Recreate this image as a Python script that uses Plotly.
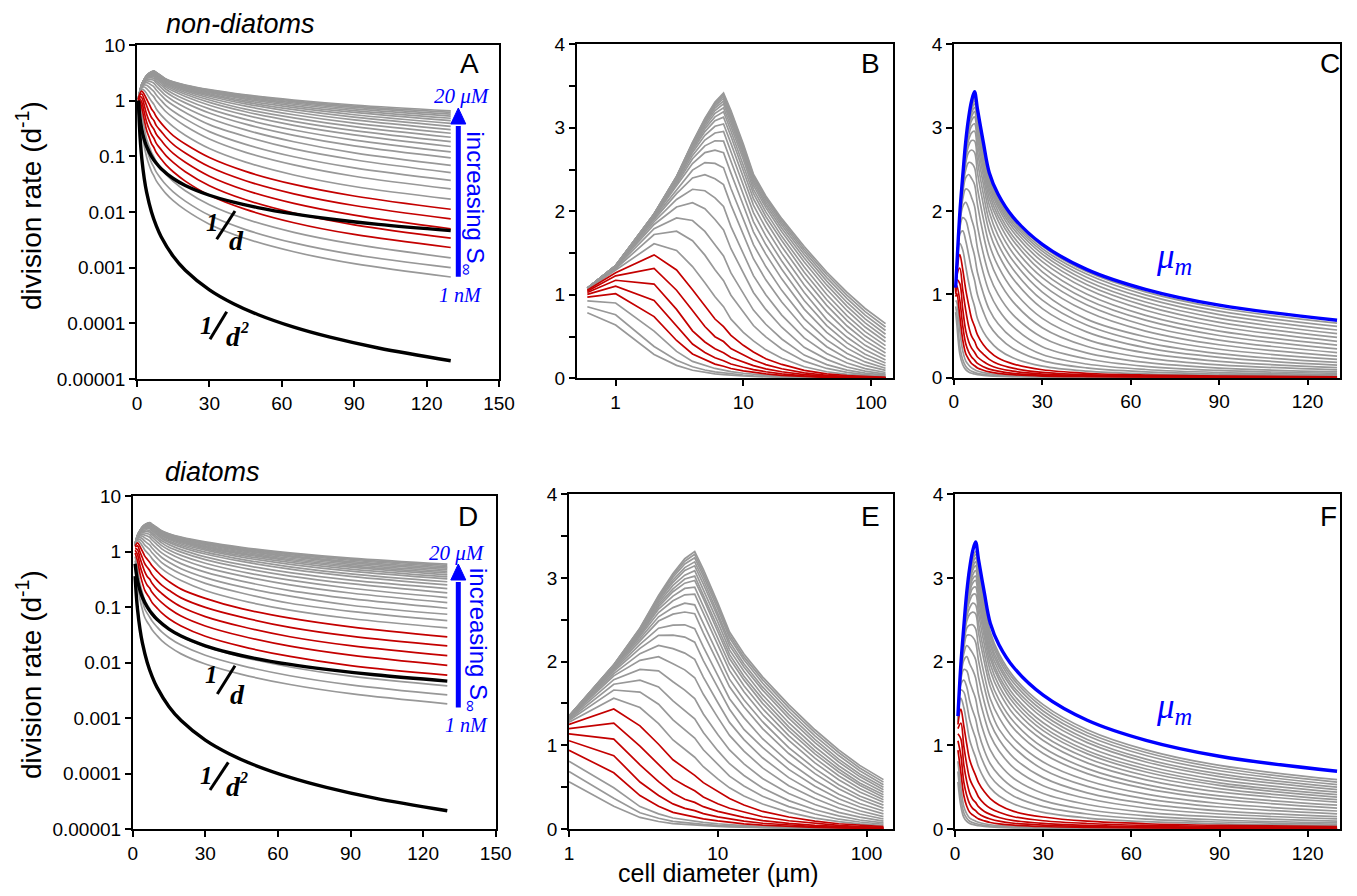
import plotly.graph_objects as go

# cell diameters (um) where the curves were read
diam_nd = [0.6, 1, 2, 3, 4, 5, 6, 7, 8, 10, 12, 15, 20, 30, 45, 65, 90, 130]
diam_dt = [1, 2, 3, 4, 5, 6, 7, 8, 10, 12, 15, 20, 30, 45, 65, 90, 130]

# maximum division rate mu_m (blue curve, panels C and F)
mu_max_nd = [1.08, 1.35, 1.97, 2.42, 2.83, 3.12, 3.32, 3.43, 3.22, 2.82, 2.46, 2.2, 1.93, 1.6, 1.3, 1.06, 0.87, 0.69]
mu_max_dt = [1.35, 1.97, 2.42, 2.83, 3.12, 3.32, 3.43, 3.22, 2.82, 2.46, 2.2, 1.93, 1.6, 1.3, 1.06, 0.87, 0.69]

# division rate (d-1) per substrate level, from 1 nM (first row) up to 20 uM (last row)
rate_nd = [
    [0.786, 0.638, 0.285, 0.155, 0.0968, 0.0696, 0.0537, 0.0445, 0.0363, 0.0274, 0.0214, 0.0160, 0.0109, 0.00605, 0.00334, 0.00193, 0.00118, 0.00068],
    [0.857, 0.761, 0.381, 0.216, 0.138, 0.0992, 0.0768, 0.0637, 0.0521, 0.0394, 0.0308, 0.0230, 0.0157, 0.00871, 0.00483, 0.00278, 0.00171, 0.001],
    [0.927, 0.902, 0.565, 0.322, 0.203, 0.152, 0.118, 0.0977, 0.0802, 0.0606, 0.0474, 0.0356, 0.0241, 0.0135, 0.00748, 0.00431, 0.00264, 0.0015],
    [0.972, 1.013, 0.739, 0.453, 0.291, 0.222, 0.170, 0.144, 0.117, 0.0897, 0.0701, 0.0528, 0.0359, 0.0200, 0.01115, 0.00642, 0.00395, 0.0023],
    [1.005, 1.104, 0.931, 0.622, 0.410, 0.310, 0.247, 0.211, 0.171, 0.132, 0.1033, 0.0781, 0.0530, 0.0297, 0.01656, 0.00958, 0.00589, 0.0034],
    [1.028, 1.174, 1.129, 0.825, 0.568, 0.435, 0.355, 0.306, 0.249, 0.194, 0.1515, 0.1129, 0.0782, 0.0440, 0.0246, 0.01428, 0.00878, 0.005],
    [1.044, 1.227, 1.316, 1.055, 0.812, 0.62, 0.498, 0.440, 0.356, 0.281, 0.220, 0.1637, 0.1146, 0.0648, 0.0364, 0.0212, 0.01308, 0.0075],
    [1.056, 1.265, 1.478, 1.297, 1.061, 0.874, 0.71, 0.618, 0.515, 0.395, 0.315, 0.235, 0.166, 0.0950, 0.0536, 0.0313, 0.0194, 0.0112],
    [1.064, 1.292, 1.611, 1.532, 1.338, 1.143, 0.977, 0.858, 0.708, 0.55, 0.448, 0.341, 0.239, 0.138, 0.0786, 0.0462, 0.0287, 0.017],
    [1.070, 1.312, 1.722, 1.762, 1.647, 1.475, 1.301, 1.170, 0.995, 0.790, 0.632, 0.495, 0.351, 0.205, 0.118, 0.0702, 0.0439, 0.026],
    [1.073, 1.324, 1.791, 1.921, 1.890, 1.759, 1.600, 1.465, 1.262, 1.010, 0.817, 0.647, 0.471, 0.278, 0.164, 0.0982, 0.0620, 0.037],
    [1.075, 1.332, 1.842, 2.052, 2.103, 2.032, 1.902, 1.777, 1.552, 1.255, 1.028, 0.825, 0.612, 0.371, 0.227, 0.1357, 0.0867, 0.051],
    [1.077, 1.337, 1.875, 2.142, 2.264, 2.246, 2.161, 2.058, 1.816, 1.486, 1.230, 1.000, 0.757, 0.483, 0.298, 0.183, 0.1157, 0.069],
    [1.078, 1.341, 1.901, 2.212, 2.400, 2.438, 2.390, 2.319, 2.077, 1.715, 1.432, 1.179, 0.913, 0.600, 0.378, 0.238, 0.154, 0.094],
    [1.079, 1.343, 1.919, 2.263, 2.493, 2.583, 2.573, 2.521, 2.273, 1.906, 1.601, 1.338, 1.053, 0.712, 0.460, 0.297, 0.196, 0.12],
    [1.079, 1.345, 1.933, 2.301, 2.572, 2.703, 2.732, 2.703, 2.457, 2.073, 1.754, 1.487, 1.191, 0.829, 0.550, 0.361, 0.2436, 0.15],
    [1.08, 1.346, 1.940, 2.326, 2.629, 2.784, 2.845, 2.840, 2.599, 2.202, 1.877, 1.602, 1.305, 0.931, 0.632, 0.4245, 0.289, 0.183],
    [1.08, 1.347, 1.946, 2.347, 2.669, 2.853, 2.938, 2.957, 2.714, 2.321, 1.985, 1.705, 1.405, 1.027, 0.703, 0.491, 0.341, 0.22],
    [1.08, 1.348, 1.952, 2.364, 2.705, 2.910, 3.018, 3.046, 2.814, 2.417, 2.074, 1.800, 1.496, 1.117, 0.796, 0.559, 0.395, 0.26],
    [1.08, 1.349, 1.956, 2.376, 2.731, 2.955, 3.084, 3.128, 2.898, 2.496, 2.150, 1.881, 1.579, 1.200, 0.874, 0.626, 0.451, 0.302],
    [1.08, 1.349, 1.959, 2.386, 2.754, 2.989, 3.131, 3.193, 2.962, 2.563, 2.214, 1.938, 1.650, 1.270, 0.941, 0.690, 0.506, 0.346],
    [1.08, 1.35, 1.962, 2.393, 2.771, 3.017, 3.174, 3.241, 3.017, 2.620, 2.263, 1.993, 1.700, 1.333, 1.004, 0.748, 0.559, 0.391],
    [1.08, 1.35, 1.964, 2.400, 2.786, 3.043, 3.207, 3.286, 3.065, 2.665, 2.310, 2.044, 1.754, 1.392, 1.066, 0.809, 0.614, 0.437],
    [1.08, 1.35, 1.965, 2.405, 2.796, 3.062, 3.237, 3.320, 3.104, 2.702, 2.347, 2.079, 1.797, 1.440, 1.118, 0.862, 0.664, 0.483],
    [1.08, 1.35, 1.967, 2.409, 2.806, 3.078, 3.259, 3.351, 3.136, 2.735, 2.376, 2.110, 1.832, 1.483, 1.164, 0.908, 0.712, 0.528],
    [1.08, 1.35, 1.968, 2.413, 2.814, 3.092, 3.280, 3.378, 3.165, 2.764, 2.403, 2.141, 1.862, 1.518, 1.206, 0.954, 0.757, 0.572],
    [1.08, 1.35, 1.969, 2.416, 2.820, 3.104, 3.296, 3.399, 3.186, 2.786, 2.427, 2.164, 1.889, 1.549, 1.243, 0.993, 0.798, 0.615],
    [1.08, 1.35, 1.97, 2.418, 2.826, 3.113, 3.309, 3.416, 3.205, 2.805, 2.445, 2.184, 1.912, 1.578, 1.273, 1.029, 0.836, 0.655],
]

rate_dt = [
    [0.564, 0.272, 0.138, 0.090, 0.0646, 0.0537, 0.0462, 0.0390, 0.0306, 0.0248, 0.0195, 0.0143, 0.00938, 0.00611, 0.00401, 0.00274, 0.0018],
    [0.687, 0.368, 0.194, 0.128, 0.0922, 0.0767, 0.0661, 0.0560, 0.0440, 0.0356, 0.0280, 0.0206, 0.0135, 0.0088, 0.00577, 0.00395, 0.0026],
    [0.810, 0.493, 0.268, 0.181, 0.131, 0.110, 0.0943, 0.0802, 0.0629, 0.0509, 0.0401, 0.0295, 0.0194, 0.01265, 0.0083, 0.00568, 0.0038],
    [0.942, 0.672, 0.40, 0.272, 0.199, 0.168, 0.144, 0.121, 0.0964, 0.0782, 0.0615, 0.0455, 0.0297, 0.0195, 0.01285, 0.00878, 0.0059],
    [1.055, 0.877, 0.561, 0.40, 0.300, 0.247, 0.219, 0.184, 0.145, 0.120, 0.0942, 0.0688, 0.0456, 0.0300, 0.0197, 0.01357, 0.0089],
    [1.138, 1.075, 0.767, 0.566, 0.431, 0.355, 0.318, 0.267, 0.210, 0.175, 0.138, 0.1007, 0.0672, 0.0445, 0.0291, 0.0201, 0.0133],
    [1.199, 1.265, 0.990, 0.770, 0.602, 0.52, 0.456, 0.383, 0.301, 0.248, 0.200, 0.146, 0.0986, 0.0657, 0.0429, 0.0298, 0.0199],
    [1.249, 1.434, 1.232, 1.013, 0.827, 0.725, 0.641, 0.554, 0.444, 0.364, 0.287, 0.210, 0.143, 0.0932, 0.0630, 0.0439, 0.029],
    [1.276, 1.564, 1.452, 1.259, 1.064, 0.953, 0.858, 0.744, 0.598, 0.492, 0.395, 0.299, 0.198, 0.131, 0.088, 0.0620, 0.042],
    [1.295, 1.661, 1.636, 1.491, 1.304, 1.189, 1.087, 0.947, 0.767, 0.632, 0.515, 0.392, 0.267, 0.179, 0.117, 0.0836, 0.057],
    [1.309, 1.730, 1.779, 1.698, 1.532, 1.418, 1.317, 1.153, 0.936, 0.780, 0.640, 0.490, 0.339, 0.230, 0.157, 0.1076, 0.074],
    [1.319, 1.785, 1.907, 1.890, 1.760, 1.660, 1.559, 1.375, 1.129, 0.945, 0.779, 0.604, 0.424, 0.293, 0.198, 0.1414, 0.095],
    [1.327, 1.830, 2.016, 2.060, 1.975, 1.902, 1.808, 1.610, 1.334, 1.118, 0.931, 0.731, 0.518, 0.364, 0.251, 0.179, 0.12],
    [1.332, 1.858, 2.096, 2.193, 2.156, 2.102, 2.027, 1.816, 1.512, 1.274, 1.069, 0.851, 0.614, 0.432, 0.304, 0.2175, 0.148],
    [1.336, 1.883, 2.159, 2.315, 2.318, 2.294, 2.233, 2.013, 1.692, 1.432, 1.190, 0.975, 0.712, 0.510, 0.361, 0.263, 0.18],
    [1.339, 1.899, 2.207, 2.400, 2.437, 2.440, 2.394, 2.177, 1.836, 1.557, 1.331, 1.079, 0.800, 0.579, 0.416, 0.3045, 0.215],
    [1.342, 1.915, 2.253, 2.485, 2.568, 2.593, 2.573, 2.344, 1.991, 1.700, 1.461, 1.199, 0.902, 0.662, 0.482, 0.356, 0.25],
    [1.343, 1.925, 2.277, 2.536, 2.646, 2.699, 2.679, 2.457, 2.095, 1.791, 1.544, 1.282, 0.973, 0.722, 0.530, 0.395, 0.285],
    [1.344, 1.933, 2.304, 2.587, 2.727, 2.799, 2.806, 2.576, 2.202, 1.892, 1.641, 1.368, 1.058, 0.790, 0.588, 0.443, 0.32],
    [1.345, 1.939, 2.321, 2.629, 2.783, 2.875, 2.891, 2.666, 2.293, 1.968, 1.712, 1.440, 1.117, 0.846, 0.636, 0.483, 0.35],
    [1.346, 1.944, 2.338, 2.657, 2.836, 2.938, 2.970, 2.753, 2.360, 2.037, 1.782, 1.502, 1.176, 0.898, 0.681, 0.522, 0.38],
    [1.347, 1.948, 2.350, 2.680, 2.870, 2.988, 3.022, 2.801, 2.411, 2.086, 1.826, 1.552, 1.221, 0.936, 0.717, 0.551, 0.41],
    [1.347, 1.951, 2.360, 2.705, 2.911, 3.034, 3.087, 2.859, 2.476, 2.140, 1.885, 1.602, 1.270, 0.983, 0.756, 0.588, 0.44],
    [1.348, 1.955, 2.374, 2.728, 2.948, 3.091, 3.145, 2.927, 2.538, 2.194, 1.936, 1.660, 1.325, 1.032, 0.801, 0.626, 0.47],
    [1.348, 1.958, 2.381, 2.745, 2.976, 3.124, 3.193, 2.979, 2.577, 2.236, 1.976, 1.698, 1.368, 1.070, 0.835, 0.658, 0.50],
    [1.349, 1.960, 2.390, 2.765, 3.008, 3.167, 3.241, 3.024, 2.631, 2.285, 2.022, 1.745, 1.410, 1.114, 0.878, 0.696, 0.53],
    [1.349, 1.962, 2.396, 2.779, 3.033, 3.200, 3.283, 3.065, 2.671, 2.320, 2.057, 1.785, 1.450, 1.151, 0.914, 0.729, 0.56],
    [1.35, 1.964, 2.402, 2.792, 3.054, 3.230, 3.317, 3.104, 2.704, 2.354, 2.092, 1.818, 1.486, 1.186, 0.946, 0.760, 0.59],
]

# rows drawn in red
red_rows = [3, 4, 5, 6, 7]

# black reference curves 1/d and 1/d^2 (panels A and D)
ref_d_nd = [0.6, 1, 1.5, 2, 3, 4, 6, 8, 10, 15, 20, 30, 40, 50, 65, 80, 100, 130]
inv_d_nd = [1.0, 0.6, 0.4, 0.3, 0.2, 0.15, 0.1, 0.075, 0.06, 0.04, 0.03, 0.02, 0.015, 0.012, 0.00923, 0.0075, 0.006, 0.00462]
inv_d2_nd = [1.0, 0.36, 0.16, 0.09, 0.04, 0.0225, 0.01, 0.005625, 0.0036, 0.0016, 0.0009, 0.0004, 0.000225, 0.000144, 0.0000852, 0.0000563, 0.000036, 0.0000213]
ref_d_dt = [1, 1.5, 2, 3, 4, 6, 8, 10, 15, 20, 30, 40, 50, 65, 80, 100, 130]
inv_d_dt = [0.6, 0.4, 0.3, 0.2, 0.15, 0.1, 0.075, 0.06, 0.04, 0.03, 0.02, 0.015, 0.012, 0.00923, 0.0075, 0.006, 0.00462]
inv_d2_dt = [0.36, 0.16, 0.09, 0.04, 0.0225, 0.01, 0.005625, 0.0036, 0.0016, 0.0009, 0.0004, 0.000225, 0.000144, 0.0000852, 0.0000563, 0.000036, 0.0000213]

log_ticks = [0.00001, 0.0001, 0.001, 0.01, 0.1, 1, 10]
log_tick_text = ['0.00001', '0.0001', '0.001', '0.01', '0.1', '1', '10']

# the page body keeps an 8px margin, so the figure is drawn 16px smaller
# and every position below is given in window pixels, shifted by that margin
W, H = 1357, 896
PAD = 8
FW, FH = W - 2 * PAD, H - 2 * PAD
GRAY = '#989898'
RED = '#c40000'
BLUE = '#0000ff'
SANS = 'Liberation Sans, Arial, sans-serif'
SERIF = 'Liberation Serif, Times New Roman, serif'

fig = go.Figure()


def add_family(rates, diam, xa, ya, shape):
    order = [i for i in range(len(rates)) if i not in red_rows] + red_rows
    for i in order:
        col = RED if i in red_rows else GRAY
        fig.add_trace(go.Scatter(x=diam, y=rates[i], mode='lines', xaxis=xa, yaxis=ya,
                                 line=dict(color=col, width=1.7, shape=shape), hoverinfo='skip'))


def add_line(x, y, xa, ya, color, shape='spline'):
    fig.add_trace(go.Scatter(x=x, y=y, mode='lines', xaxis=xa, yaxis=ya,
                             line=dict(color=color, width=3.4, shape=shape), hoverinfo='skip'))


# top row: non-diatoms
add_family(rate_nd, diam_nd, 'x', 'y', 'spline')
add_line(ref_d_nd, inv_d_nd, 'x', 'y', 'black')
add_line(ref_d_nd, inv_d2_nd, 'x', 'y', 'black')
add_family(rate_nd, diam_nd, 'x2', 'y2', 'linear')
add_family(rate_nd, diam_nd, 'x3', 'y3', 'spline')
add_line(diam_nd, mu_max_nd, 'x3', 'y3', BLUE)

# bottom row: diatoms
add_family(rate_dt, diam_dt, 'x4', 'y4', 'spline')
add_line(ref_d_dt, inv_d_dt, 'x4', 'y4', 'black')
add_line(ref_d_dt, inv_d2_dt, 'x4', 'y4', 'black')
add_family(rate_dt, diam_dt, 'x5', 'y5', 'linear')
add_family(rate_dt, diam_dt, 'x6', 'y6', 'spline')
add_line(diam_dt, mu_max_dt, 'x6', 'y6', BLUE)


def px(x):
    return (x - PAD) / FW


def py(y):
    return 1 - (y - PAD) / FH


axis_style = dict(showline=True, linecolor='black', linewidth=1.5, mirror=True, ticks='outside',
                  ticklen=6, tickwidth=1.5, tickcolor='black', showgrid=False, zeroline=False,
                  automargin=False, tickfont=dict(family=SANS, size=19, color='black'))

panels = {
    # axis suffix: (x span, y span) in window pixels
    '': ((137, 499), (45, 379)),
    '2': ((576.7, 892.7), (44.3, 378.3)),
    '3': ((953.9, 1340), (44.3, 377.7)),
    '4': ((132.7, 495.7), (496, 829)),
    '5': ((569, 892.7), (494.3, 829)),
    '6': ((955, 1340), (494.3, 829)),
}
layout = {}
for k, ((x0, x1), (y0, y1)) in panels.items():
    layout['xaxis' + k] = dict(axis_style, domain=[px(x0), px(x1)], anchor='y' + k)
    layout['yaxis' + k] = dict(axis_style, domain=[py(y1), py(y0)], anchor='x' + k)

for k in ['', '4']:
    layout['xaxis' + k].update(range=[0, 150], tickvals=[0, 30, 60, 90, 120, 150])
    layout['yaxis' + k].update(type='log', range=[-5, 1], tickvals=log_ticks, ticktext=log_tick_text)
layout['xaxis2'].update(type='log', range=[-0.305, 2.17], tickvals=[1, 10, 100], ticktext=['1', '10', '100'])
layout['xaxis5'].update(type='log', range=[0, 2.176], tickvals=[1, 10, 100], ticktext=['1', '10', '100'])
for k in ['2', '5']:
    layout['yaxis' + k].update(range=[0, 4], tickvals=[0, 1, 2, 3, 4],
                               minor=dict(tickvals=[0.5, 1.5, 2.5, 3.5], ticks='outside', ticklen=6,
                                          tickwidth=1.5, tickcolor='black', showgrid=False))
for k in ['3', '6']:
    layout['xaxis' + k].update(range=[0, 131], tickvals=[0, 30, 60, 90, 120])
    layout['yaxis' + k].update(range=[0, 4], tickvals=[0, 1, 2, 3, 4])

fig.update_layout(**layout)
fig.update_layout(width=FW, height=FH, margin=dict(l=0, r=0, t=0, b=0), showlegend=False,
                  plot_bgcolor='white', paper_bgcolor='white', template='none', hovermode=False)


def note(x, y, text, size, color='black', family=SANS, angle=0):
    fig.add_annotation(x=px(x), y=py(y), xref='paper', yref='paper', text=text, showarrow=False,
                       font=dict(size=size, color=color, family=family), textangle=angle,
                       xanchor='center', yanchor='middle')


def slash(x0, y0, x1, y1):
    fig.add_shape(type='line', xref='paper', yref='paper', x0=px(x0), y0=py(y0), x1=px(x1), y1=py(y1),
                  line=dict(color='black', width=3))


# panel letters
for letter, (x, y) in {'A': (469, 63), 'B': (870, 63), 'C': (1330, 63),
                       'D': (468, 517), 'E': (870, 517), 'F': (1328, 517)}.items():
    note(x, y, letter, 28)

note(240.7, 24, '<i>non-diatoms</i>', 27)
note(212.5, 472, '<i>diatoms</i>', 27)
note(29, 206, 'division rate (d<sup>-1</sup>)', 28, angle=-90)
note(29, 675, 'division rate (d<sup>-1</sup>)', 28, angle=-90)
note(718.5, 873, 'cell diameter (µm)', 25)

# mu_m labels
note(1174, 258, '<i>μ<sub>m</sub></i>', 35, color=BLUE, family=SERIF)
note(1174, 708, '<i>μ<sub>m</sub></i>', 35, color=BLUE, family=SERIF)

# 1/d and 1/d^2 labels
note(212.5, 222, '<b><i>1</i></b>', 25, family=SERIF)
slash(216.7, 239.3, 235, 211)
note(237, 240, '<b><i>d</i></b>', 28, family=SERIF)
note(206.5, 325, '<b><i>1</i></b>', 25, family=SERIF)
slash(210, 339.3, 226.7, 311.7)
note(233.5, 336, '<b><i>d</i></b>', 28, family=SERIF)
note(244, 327, '<b><i>2</i></b>', 16, family=SERIF)

note(211.5, 674, '<b><i>1</i></b>', 25, family=SERIF)
slash(217.3, 694, 235, 665.7)
note(237.5, 694.5, '<b><i>d</i></b>', 28, family=SERIF)
note(206.5, 775, '<b><i>1</i></b>', 25, family=SERIF)
slash(210, 790, 228.3, 762.3)
note(233, 786, '<b><i>d</i></b>', 28, family=SERIF)
note(243.5, 777.5, '<b><i>2</i></b>', 16, family=SERIF)

# blue arrows: increasing substrate concentration
for (xc, y_top, y_base, y_bot, lab_hi, lab_lo, lab_mid) in [
        (458.3, 108, 124, 276.7, (462, 96), (460, 295), (472.5, 204)),
        (458.3, 564, 580, 707.5, (456.7, 552.7), (466.7, 725), (477, 640))]:
    fig.add_shape(type='line', xref='paper', yref='paper', x0=px(xc), x1=px(xc), y0=py(y_bot), y1=py(y_base + 2),
                  line=dict(color=BLUE, width=5))
    fig.add_shape(type='path', xref='paper', yref='paper', fillcolor=BLUE, line=dict(color=BLUE, width=1),
                  path='M {},{} L {},{} L {},{} Z'.format(px(xc - 7.5), py(y_base), px(xc + 7.5), py(y_base),
                                                          px(xc), py(y_top)))
    note(lab_hi[0], lab_hi[1], '<i>20 μM</i>', 21, color=BLUE, family=SERIF)
    note(lab_lo[0], lab_lo[1], '<i>1 nM</i>', 20, color=BLUE, family=SERIF)
    note(lab_mid[0], lab_mid[1], 'increasing S<sub>∞</sub>', 24, color=BLUE, angle=90)

fig.write_html("out.html")
